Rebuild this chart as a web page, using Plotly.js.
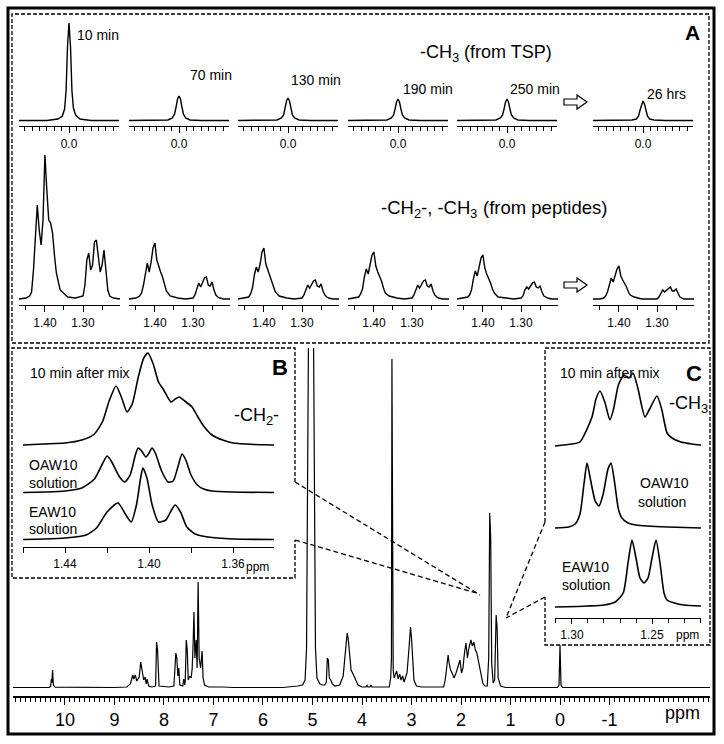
<!DOCTYPE html>
<html><head><meta charset="utf-8">
<script src="https://cdn.plot.ly/plotly-3.0.1.min.js"></script>
<style>html,body{margin:0;padding:0;background:#fff}#chart{width:724px;height:744px}</style>
</head><body><div id="chart"></div>
<script>
// ---------------- DATA ----------------
// Main 1H spectrum: [ppm, intensity]
const mainSpectrum = [
 [11.05,0.5],[10.32,0.5],[10.29,1.5],[10.275,9],[10.265,5],[10.25,18],[10.235,3],[10.2,0.8],
 [9.0,0.5],[8.75,1],[8.68,4],[8.63,13],[8.61,9],[8.58,13],[8.55,7],[8.5,11],[8.47,26],[8.44,17],
 [8.41,8],[8.38,11],[8.36,4],[8.34,9],[8.31,2],[8.25,1],[8.17,2],[8.15,46],[8.13,38],[8.10,2],
 [7.9,1],[7.8,2],[7.76,35],[7.74,30],[7.72,12],[7.70,20],[7.68,3],[7.62,2],[7.60,9],[7.58,3],
 [7.57,8],[7.55,48],[7.53,38],[7.51,8],[7.48,12],[7.45,10],[7.43,20],[7.41,46],[7.395,76],
 [7.375,30],[7.35,48],[7.33,20],[7.31,106],[7.29,30],[7.26,20],[7.23,37],[7.21,10],[7.18,3],
 [7.1,1],[6.8,1],[6.6,0.5],[5.6,0.5],[5.4,1],[5.3,2],[5.2,3],[5.15,8],[5.12,40],[5.09,300],
 [5.05,600],[5.01,600],[4.97,300],[4.94,40],[4.91,10],[4.85,4],[4.8,3],[4.75,3],[4.72,6],
 [4.70,30],[4.68,28],[4.66,10],[4.63,8],[4.60,4],[4.55,2],[4.45,3],[4.38,12],[4.33,35],[4.30,55],
 [4.28,50],[4.25,30],[4.22,18],[4.19,15],[4.16,12],[4.13,8],[4.08,3],[4.0,1],[3.92,1],[3.90,3],
 [3.88,1],[3.84,1],[3.82,3],[3.80,1],[3.45,1],[3.42,10],[3.405,30],[3.395,329],[3.385,30],
 [3.37,18],[3.35,10],[3.33,13],[3.30,17],[3.27,9],[3.24,14],[3.21,8],[3.18,12],[3.15,6],
 [3.12,10],[3.09,15],[3.05,40],[3.02,61],[3.00,50],[2.98,30],[2.95,8],[2.90,2],[2.8,1],
 [2.35,1],[2.32,8],[2.29,20],[2.26,33],[2.24,25],[2.21,18],[2.18,15],[2.14,10],[2.10,15],
 [2.05,22],[2.02,28],[1.99,15],[1.96,20],[1.93,35],[1.90,45],[1.87,30],[1.84,40],[1.80,48],
 [1.77,42],[1.74,46],[1.71,38],[1.68,35],[1.64,25],[1.60,12],[1.56,5],[1.52,2],[1.47,2],
 [1.44,30],[1.42,175],[1.40,150],[1.38,25],[1.35,5],[1.32,8],[1.29,73],[1.27,60],[1.25,10],
 [1.2,2],[1.1,0.5],[0.05,0.5],[0.02,3],[0.0,43],[-0.02,3],[-0.05,0.5],[-3.03,0.5]
];
const mainTickVals = [10,9,8,7,6,5,4,3,2,1,0,-1];
const mainTickText = ['10','9','8','7','6','5','4','3','2','1','0','-1'];

// Panel A, top row: TSP methyl signal
const tspLabels = ['10 min','70 min','130 min','190 min','250 min','26 hrs'];
const tspPpm  = [0.068,0.03,0.015,0.009,0.006,0.004,0.002,0,-0.002,-0.004,-0.006,-0.009,-0.015,-0.03,-0.068];
const tsp10   = [0.5,0.5,2,5,12,30,75,98,75,30,13,6,2,0.5,0.5];
const tsp70   = [0.5,0.5,1,3,7,14,22,25,22,14,7,3,1,0.5,0.5];
const tsp130  = [0.5,0.5,1,3,6,13,20,23,20,13,6,3,1,0.5,0.5];
const tsp190  = [0.5,0.5,1,3,6,12,19,22,19,12,6,3,1,0.5,0.5];
const tsp250  = [0.5,0.5,1,3,6,12,19,22,19,12,6,3,1,0.5,0.5];
const tsp26h  = [0.5,0.5,1,2,5,11,17,20,17,11,5,2,1,0.5,0.5];
const tspSeries = [tsp10,tsp70,tsp130,tsp190,tsp250,tsp26h];

// Panel A, bottom row: peptide -CH2-, -CH3 signals
const pepPpm = [1.468,1.45,1.44,1.435,1.43,1.425,1.42,1.415,1.41,1.405,1.40,1.395,1.39,1.385,1.38,1.375,1.37,1.36,1.34,1.32,1.30,1.295,1.29,1.285,1.28,1.275,1.27,1.265,1.26,1.255,1.25,1.245,1.24,1.235,1.23,1.22,1.203];
const pep10  = [1,2,4,8,30,70,95,70,55,80,145,110,80,77,67,45,27,10,3,2,4,15,40,47,30,35,58,60,45,28,35,50,30,10,4,2,1];
const pep70  = [1,2,4,7,15,28,37,28,38,52,57,40,33,28,23,15,9,4,2,1,2,5,12,17,13,18,22,23,15,14,18,10,5,3,2,1,1];
const pep130 = [1,2,3,6,12,25,33,28,36,48,52,36,30,26,20,13,8,4,2,1,2,5,11,15,12,16,19,20,14,13,16,9,5,3,2,1,1];
const pep190 = [1,2,3,6,11,23,31,26,34,45,48,34,28,24,19,12,7,4,2,1,2,5,11,15,12,16,19,20,14,13,16,9,5,3,2,1,1];
const pep250 = [1,2,3,5,10,21,29,24,32,42,45,32,26,22,17,11,7,3,2,1,2,4,10,13,11,14,17,18,13,12,14,8,4,3,2,1,1];
const pep26h = [1,1,2,4,8,16,22,18,24,31,34,24,20,17,13,8,5,3,1,1,1,3,7,10,8,10,12,13,9,9,11,6,3,2,1,1,1];
const pepSeries = [pep10,pep70,pep130,pep190,pep250,pep26h];

// Panel B: -CH2- region
const bMixPpm = [1.46,1.45,1.44,1.432,1.426,1.422,1.419,1.4157,1.413,1.4105,1.408,1.405,1.4025,1.4005,1.398,1.3955,1.393,1.3895,1.3875,1.3857,1.383,1.3795,1.377,1.374,1.370,1.365,1.36,1.35,1.3405];
const bMixInt = [1,2,3,6,12,25,45,60,48,34,42,70,88,93,82,64,56,44,47,49,45,39,30,20,11,6,3,1.5,1];
const bOawPpm = [1.46,1.45,1.44,1.432,1.426,1.422,1.42,1.418,1.414,1.4115,1.409,1.4065,1.4052,1.4035,1.4015,1.40,1.3986,1.397,1.394,1.391,1.3885,1.386,1.3843,1.3825,1.38,1.377,1.374,1.37,1.36,1.3405];
const bOawInt = [0.5,1,2,5,14,30,37,32,16,11,18,38,45,42,36,40,45,40,22,11,12,28,39,33,18,8,4,2,1,0.5];
const bEawPpm = [1.46,1.45,1.44,1.43,1.425,1.42,1.4148,1.411,1.4085,1.406,1.404,1.4029,1.401,1.3985,1.3955,1.392,1.389,1.3876,1.385,1.382,1.378,1.372,1.36,1.3405];
const bEawInt = [0.5,1,2,5,12,28,37,25,18,35,62,72,62,35,18,20,31,35,28,13,6,3,1,0.5];
const bTickVals = [1.44,1.40,1.36];
const bTickText = ['1.44','1.40','1.36'];

// Panel C: -CH3 region
const cMixPpm = [1.3106,1.30,1.295,1.2875,1.285,1.2825,1.2795,1.2763,1.274,1.271,1.2675,1.2644,1.2619,1.259,1.2544,1.2515,1.2469,1.244,1.2406,1.2375,1.232,1.225,1.2194];
const cMixInt = [1,3,5,30,48,56,45,27,38,62,72,69,74,60,30,38,51,38,14,9,5,3,2];
const cOawPpm = [1.3106,1.302,1.298,1.295,1.2925,1.2906,1.2885,1.2855,1.2831,1.2805,1.2775,1.2756,1.2735,1.271,1.2688,1.265,1.26,1.2531,1.24,1.2194];
const cOawInt = [1,2,5,15,45,66,50,28,23,35,60,66,48,20,11,6,4,3,2,1];
const cEawPpm = [1.3106,1.29,1.28,1.273,1.268,1.265,1.2625,1.26,1.2575,1.255,1.2525,1.25,1.2475,1.245,1.2425,1.2406,1.236,1.23,1.2194];
const cEawInt = [1,2,3,6,15,45,68,50,30,25,30,50,68,45,15,8,5,3,2];
const cTickVals = [1.30,1.25];
const cTickText = ['1.30','1.25'];

// ---------------- LAYOUT HELPERS ----------------
const W = 724, H = 744;
const X = p => p / W;
const Y = p => 1 - p / H;
const FONT = 'Liberation Sans, Arial, Helvetica, sans-serif';
const BLACK = '#000';

function minorTicks(dtick, len) {
  return {dtick: dtick, ticklen: len, ticks: 'outside', tickcolor: BLACK, tickwidth: 1, showgrid: false};
}
function xAx(x0, x1, range, extra) {
  return Object.assign({
    domain: [X(x0), X(x1)], range: range, showgrid: false, zeroline: false,
    showline: true, linecolor: BLACK, linewidth: 1.2, ticks: 'outside', tickcolor: BLACK,
    tickwidth: 1, tickfont: {family: FONT, size: 12, color: BLACK}, fixedrange: true
  }, extra || {});
}
function yAx(bottom, top, range, anchor) {
  return {domain: [Y(bottom), Y(top)], range: range, visible: false, anchor: anchor, fixedrange: true, showgrid:false, zeroline:false};
}
function line(xs, ys, xa, ya, w, shape) {
  return {x: xs, y: ys, xaxis: xa, yaxis: ya, mode: 'lines', hoverinfo: 'skip',
    line: {color: BLACK, width: w || 1.3, shape: shape || 'linear', smoothing: 0.6}};
}
function pathPx(pts, close) {
  return pts.map((p, i) => (i ? 'L' : 'M') + X(p[0]).toFixed(5) + ',' + Y(p[1]).toFixed(5)).join(' ') + (close ? ' Z' : '');
}
function ann(text, x, y, size, xanchor, weight) {
  return {text: text, x: X(x), y: Y(y), xref: 'paper', yref: 'paper', showarrow: false,
    xanchor: xanchor || 'left', yanchor: 'middle',
    font: {family: FONT, size: size, color: BLACK, weight: weight || 'normal'}};
}
// chemical formula label built from plain pieces: [text, isSubscript]
function formula(parts, x0, y, size) {
  const subSize = Math.round(size * 0.7);
  let x = x0;
  const out = [];
  parts.forEach(p => {
    const txt = p[0], sub = p[1], gapBefore = p[2] || 0;
    x += gapBefore * size;
    out.push(ann(txt, x, sub ? y + size * 0.28 : y, sub ? subSize : size, 'left'));
    x += p[3] * (sub ? subSize : size);
  });
  return out;
}

const traces = [];
const layout = {
  width: W, height: H, margin: {l: 0, r: 0, t: 0, b: 0}, showlegend: false,
  font: {family: FONT, color: BLACK},
  paper_bgcolor: '#fff', plot_bgcolor: 'rgba(0,0,0,0)', annotations: [], shapes: []
};

// Main spectrum
traces.push(line(mainSpectrum.map(p => p[0]), mainSpectrum.map(p => p[1]), 'x', 'y', 1.2));
layout.xaxis = xAx(13, 710, [11.05, -3.03], {
  anchor: 'y', tickmode: 'array', tickvals: mainTickVals, ticktext: mainTickText, ticklen: 7,
  tickfont: {family: FONT, size: 18, color: BLACK}, linewidth: 1.5,
  minor: minorTicks(0.1, 4)
});
layout.yaxis = yAx(696, 348, [-8, 340], 'x');
layout.annotations.push(ann('ppm', 682, 713, 18, 'center'));

// Panel A rows
const panelX = [19, 129, 238, 348, 457, 593];
const tspLabelPos = [[75,35],[188,75],[289,80],[401,89],[508,89],[645,94]];
for (let i = 0; i < 6; i++) {
  const n = 2 + i;
  traces.push(line(tspPpm, tspSeries[i], 'x' + n, 'y' + n, 1.4));
  layout['xaxis' + n] = xAx(panelX[i], panelX[i] + 100, [0.068, -0.068], {
    anchor: 'y' + n, tickmode: 'array', tickvals: [0], ticktext: ['0.0'], ticklen: 6,
    minor: minorTicks(0.01, 3.5)
  });
  layout['yaxis' + n] = yAx(126, 20, [-5, 101], 'x' + n);
  layout.annotations.push(ann(tspLabels[i], tspLabelPos[i][0], tspLabelPos[i][1], 14));

  const m = 8 + i;
  traces.push(line(pepPpm, pepSeries[i], 'x' + m, 'y' + m, 1.4));
  layout['xaxis' + m] = xAx(panelX[i], panelX[i] + 101, [1.468, 1.203], {
    anchor: 'y' + m, tickmode: 'array', tickvals: [1.40, 1.30], ticktext: ['1.40', '1.30'], ticklen: 6,
    minor: minorTicks(0.05, 4)
  });
  layout['yaxis' + m] = yAx(305, 150, [-5, 150], 'x' + m);
}
// widths in em (Arial metrics) used to place subscripts
layout.annotations.push(...formula([['-CH', false, 0, 1.777], ['3', true, 0, 0.556], ['(from TSP)', false, 0.278, 0]], 418, 52, 18));
layout.annotations.push(ann('A', 692, 33, 21, 'center', 'bold'));
layout.annotations.push(...formula([['-CH', false, 0, 1.777], ['2', true, 0, 0.556], ['-, -CH', false, 0, 2.666], ['3', true, 0, 0.556], ['(from peptides)', false, 0.278, 0]], 379, 208, 18.5));

// Panel B
traces.push(line(bMixPpm, bMixInt, 'x14', 'y14', 1.6, 'spline'));
traces.push(line(bOawPpm, bOawInt, 'x14', 'y15', 1.6, 'spline'));
traces.push(line(bEawPpm, bEawInt, 'x14', 'y16', 1.6, 'spline'));
layout.xaxis14 = xAx(23, 274, [1.46, 1.3405], {
  anchor: 'free', position: Y(547), tickmode: 'array', tickvals: bTickVals, ticktext: bTickText, ticklen: 5,
  linewidth: 1.4, minor: minorTicks(0.02, 5)
});
layout.yaxis14 = yAx(449, 349, [-3, 97], 'x14');
layout.yaxis15 = yAx(496, 440, [-3, 53], 'x14');
layout.yaxis16 = yAx(543, 460, [-3, 80], 'x14');
layout.annotations.push(ann('B', 280, 367, 22, 'center', 'bold'));
layout.annotations.push(ann('10 min after mix', 28, 373, 14));
layout.annotations.push(...formula([['-CH', false, 0, 1.777], ['2', true, 0, 0.556], ['-', false, 0, 0]], 232, 415, 18));
layout.annotations.push(ann('OAW10', 27, 465, 14));
layout.annotations.push(ann('solution', 27, 483, 14));
layout.annotations.push(ann('EAW10', 27, 512, 14));
layout.annotations.push(ann('solution', 27, 529, 14));
layout.annotations.push(ann('ppm', 257, 567, 12, 'center'));

// Panel C
traces.push(line(cMixPpm, cMixInt, 'x17', 'y17', 1.6, 'spline'));
traces.push(line(cOawPpm, cOawInt, 'x17', 'y18', 1.6, 'spline'));
traces.push(line(cEawPpm, cEawInt, 'x17', 'y19', 1.6, 'spline'));
layout.xaxis17 = xAx(555, 701, [1.3106, 1.2194], {
  anchor: 'free', position: Y(618), tickmode: 'array', tickvals: cTickVals, ticktext: cTickText, ticklen: 5,
  linewidth: 1.4, minor: minorTicks(0.01, 3.5)
});
layout.yaxis17 = yAx(450, 365, [-3, 82], 'x17');
layout.yaxis18 = yAx(532, 455, [-3, 74], 'x17');
layout.yaxis19 = yAx(611, 535, [-3, 73], 'x17');
layout.annotations.push(ann('C', 694, 373, 22, 'center', 'bold'));
layout.annotations.push(ann('10 min after mix', 558, 373, 14));
layout.annotations.push(...formula([['-CH', false, 0, 1.777], ['3', true, 0, 0]], 667, 403, 18));
layout.annotations.push(ann('OAW10', 638, 483, 14));
layout.annotations.push(ann('solution', 636, 502, 14));
layout.annotations.push(ann('EAW10', 560, 567, 14));
layout.annotations.push(ann('solution', 560, 585, 14));
layout.annotations.push(ann('ppm', 687, 635, 12, 'center'));

// Frames, boxes, connectors, arrows
const dashBox = {color: BLACK, width: 1.3, dash: '4px,2px'};
const dashLine = {color: BLACK, width: 1.3, dash: '5px,3px'};
layout.shapes.push({type: 'rect', xref: 'paper', yref: 'paper', x0: X(8), x1: X(714), y0: Y(734), y1: Y(8), line: {color: BLACK, width: 3}});
layout.shapes.push({type: 'rect', xref: 'paper', yref: 'paper', x0: X(12), x1: X(709), y0: Y(343), y1: Y(14), line: dashBox});
layout.shapes.push({type: 'path', xref: 'paper', yref: 'paper', path: pathPx([[295,482],[295,348],[12,348],[12,578],[295,578],[295,540]]), line: dashBox});
layout.shapes.push({type: 'path', xref: 'paper', yref: 'paper', path: pathPx([[545,522],[545,348],[710,348],[710,645],[545,645],[545,597]]), line: dashBox});
layout.shapes.push({type: 'path', xref: 'paper', yref: 'paper', path: pathPx([[295,482],[480,595]]), line: dashLine});
layout.shapes.push({type: 'path', xref: 'paper', yref: 'paper', path: pathPx([[295,540],[476,593]]), line: dashLine});
layout.shapes.push({type: 'path', xref: 'paper', yref: 'paper', path: pathPx([[545,522],[506,618]]), line: dashLine});
layout.shapes.push({type: 'path', xref: 'paper', yref: 'paper', path: pathPx([[545,597],[506,618]]), line: dashLine});
[102, 285].forEach(cy => {
  layout.shapes.push({type: 'path', xref: 'paper', yref: 'paper', line: {color: BLACK, width: 1.2}, fillcolor: '#fff',
    path: pathPx([[564,cy-3],[577,cy-3],[577,cy-7],[587,cy],[577,cy+7],[577,cy+3],[564,cy+3]], true)});
});

Plotly.newPlot('chart', traces, layout, {staticPlot: true, displayModeBar: false});
</script></body></html>
